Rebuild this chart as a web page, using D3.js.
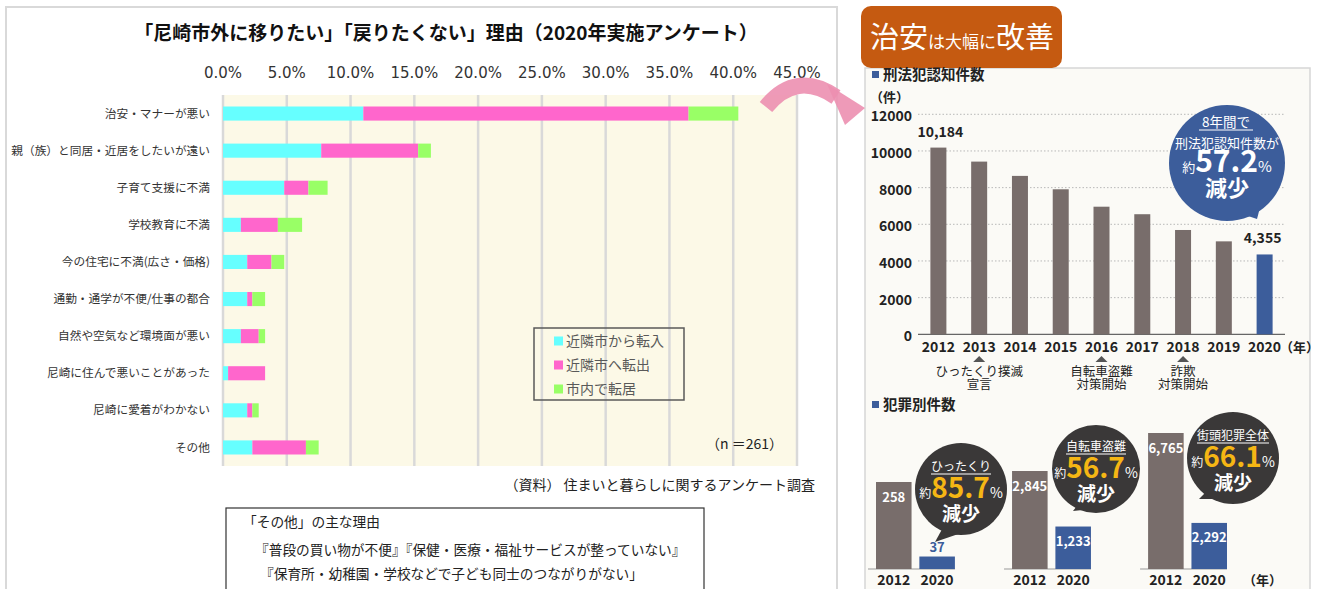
<!DOCTYPE html>
<html>
<head>
<meta charset="utf-8">
<script src="https://cdn.jsdelivr.net/npm/d3@7"></script>
<style>
  body { margin: 0; background: #fff; }
  svg text { font-family: "Noto Sans CJK JP", "Noto Sans", sans-serif; }
</style>
</head>
<body>
<svg id="chart" width="1320" height="589"></svg>
<script>
// left chart data (% of n=261)
const categories = ["治安・マナーが悪い", "親（族）と同居・近居をしたいが遠い", "子育て支援に不満", "学校教育に不満",
  "今の住宅に不満(広さ・価格)", "通勤・通学が不便/仕事の都合", "自然や空気など環境面が悪い",
  "尼崎に住んで悪いことがあった", "尼崎に愛着がわかない", "その他"];
const seriesNames = ["近隣市から転入", "近隣市へ転出", "市内で転居"];
const inflow  = [11.0, 7.7, 4.8, 1.4, 1.9, 1.9, 1.4, 0.4, 1.9, 2.3];
const outflow = [25.5, 7.6, 1.9, 2.9, 1.9, 0.4, 1.4, 2.9, 0.4, 4.2];
const within  = [3.9, 1.0, 1.5, 1.9, 1.0, 1.0, 0.5, 0.0, 0.5, 1.0];
const xTicks = [0, 5, 10, 15, 20, 25, 30, 35, 40, 45];
const otherReasons = ["「その他」の主な理由",
  "『普段の買い物が不便』『保健・医療・福祉サービスが整っていない』",
  "『保育所・幼稚園・学校などで子ども同士のつながりがない」"];

// right chart data
const years = ["2012", "2013", "2014", "2015", "2016", "2017", "2018", "2019", "2020"];
const crimeCounts = [10184, 9420, 8640, 7910, 6960, 6550, 5690, 5070, 4355];
const yTicks = [0, 2000, 4000, 6000, 8000, 10000, 12000];
const notes = [
  { year: "2013", lines: ["ひったくり撲滅", "宣言"] },
  { year: "2016", lines: ["自転車盗難", "対策開始"] },
  { year: "2018", lines: ["詐欺", "対策開始"] }
];
const crimeTypes = ["ひったくり", "自転車盗難", "街頭犯罪全体"];
const counts2012 = [258, 2845, 6765];
const counts2020 = [37, 1233, 2292];
const reductions = ["85.7", "56.7", "66.1"];

const colors = ["#66ffff", "#ff66cc", "#99ff66"];
const gray = "#786d6b", blue = "#3c5d9b";

const svg = d3.select("#chart");

// ---------- left panel ----------
svg.append("rect").attr("x", 6).attr("y", 7).attr("width", 831).attr("height", 600)
  .attr("fill", "#fff").attr("stroke", "#d9d9d9").attr("stroke-width", 2);

svg.append("text").attr("x", 446).attr("y", 40).attr("text-anchor", "middle")
  .attr("font-size", 19).attr("font-weight", "bold").attr("fill", "#111")
  .text("「尼崎市外に移りたい」「戻りたくない」理由（2020年実施アンケート）");

const x = d3.scaleLinear().domain([0, 45]).range([223, 797]);
const y = d3.scaleBand().domain(categories).range([95, 466]).paddingInner(0.62).paddingOuter(0.31);

svg.append("rect").attr("x", x(0)).attr("y", 95).attr("width", x(45) - x(0)).attr("height", 371)
  .attr("fill", "#fcf9e7");

svg.append("g").selectAll("line").data(xTicks).join("line")
  .attr("x1", d => x(d)).attr("x2", d => x(d)).attr("y1", 95).attr("y2", 466)
  .attr("stroke", "#d9d9d9").attr("stroke-width", 2.5);

svg.append("g").selectAll("text").data(xTicks).join("text")
  .attr("x", d => x(d)).attr("y", 78).attr("text-anchor", "middle")
  .attr("font-size", 15).attr("fill", "#333").style("font-family", "DejaVu Sans")
  .text(d => d.toFixed(1) + "%");

const table = categories.map((c, i) => ({ cat: c, a: inflow[i], b: outflow[i], c2: within[i] }));
const stacked = d3.stack().keys(["a", "b", "c2"])(table);

svg.append("g").selectAll("g").data(stacked).join("g")
  .attr("fill", (d, i) => colors[i])
  .selectAll("rect").data(d => d).join("rect")
  .attr("x", d => x(d[0])).attr("width", d => x(d[1]) - x(d[0]))
  .attr("y", d => y(d.data.cat)).attr("height", y.bandwidth());

svg.append("g").selectAll("text").data(categories).join("text")
  .attr("x", 210).attr("y", d => y(d) + y.bandwidth() / 2).attr("dy", "0.35em")
  .attr("text-anchor", "end").attr("font-size", 11.7).attr("fill", "#333")
  .text(d => d);

// legend
const legend = svg.append("g");
legend.append("rect").attr("x", 534).attr("y", 328).attr("width", 150).attr("height", 72)
  .attr("fill", "none").attr("stroke", "#595959").attr("stroke-width", 1.5);
seriesNames.forEach((s, i) => {
  const cy = 341 + i * 24;
  legend.append("rect").attr("x", 554).attr("y", cy - 4.5).attr("width", 9).attr("height", 9).attr("fill", colors[i]);
  legend.append("text").attr("x", 566).attr("y", cy).attr("dy", "0.35em")
    .attr("font-size", 14).attr("fill", "#595959").text(s);
});

svg.append("text").attr("x", 783).attr("y", 444).attr("dy", "0.35em").attr("text-anchor", "end")
  .attr("font-size", 14).attr("fill", "#222").text("（n ＝261）");
svg.append("text").attr("x", 815).attr("y", 485).attr("dy", "0.35em").attr("text-anchor", "end")
  .attr("font-size", 14).attr("fill", "#222").text("（資料） 住まいと暮らしに関するアンケート調査");

svg.append("rect").attr("x", 226).attr("y", 508).attr("width", 478).attr("height", 100)
  .attr("fill", "#fff").attr("stroke", "#333").attr("stroke-width", 1.2);
[[243, 522], [255, 550], [260, 574]].forEach((p, i) => {
  svg.append("text").attr("x", p[0]).attr("y", p[1]).attr("dy", "0.35em")
    .attr("font-size", 13.7).attr("fill", "#222").text(otherReasons[i]);
});

// ---------- right panel ----------
svg.append("rect").attr("x", 865).attr("y", 68).attr("width", 445).attr("height", 540)
  .attr("fill", "#fbfaf6").attr("stroke", "#d6d6d6").attr("stroke-width", 1.5);

svg.append("rect").attr("x", 861).attr("y", 6).attr("width", 201).attr("height", 62).attr("rx", 10)
  .attr("fill", "#c55a11");
const banner = svg.append("text").attr("x", 962).attr("y", 48).attr("text-anchor", "middle").attr("fill", "#fff");
banner.append("tspan").attr("font-size", 29).text("治安");
banner.append("tspan").attr("font-size", 17).text("は大幅に");
banner.append("tspan").attr("font-size", 29).text("改善");

// pink arrow
svg.append("path").attr("d", "M766,107 Q796,70 836,97").attr("fill", "none")
  .attr("stroke", "#ec8fb0").attr("stroke-width", 16).attr("opacity", 0.9);
svg.append("path").attr("d", "M827,84 L865,108 L845,125 Z").attr("fill", "#ec8fb0").attr("opacity", 0.9);

function heading(yy, label) {
  svg.append("rect").attr("x", 872).attr("y", yy - 4).attr("width", 7).attr("height", 7).attr("fill", blue);
  svg.append("text").attr("x", 883).attr("y", yy).attr("dy", "0.35em").attr("font-size", 14.5)
    .attr("font-weight", "bold").attr("fill", "#222").text(label);
}
heading(75, "刑法犯認知件数");
svg.append("text").attr("x", 870).attr("y", 97).attr("dy", "0.35em").attr("font-size", 13)
  .attr("font-weight", "bold").attr("fill", "#222").text("（件）");

const yC = d3.scaleLinear().domain([0, 12000]).range([334.3, 114.3]);
const xC = d3.scalePoint().domain(years).range([918, 1285]).padding(0.5);

svg.append("g").selectAll("line").data(yTicks.filter(d => d > 0)).join("line")
  .attr("x1", 918).attr("x2", 1285).attr("y1", d => yC(d)).attr("y2", d => yC(d))
  .attr("stroke", "#b8b8b8").attr("stroke-dasharray", "1.5,2");
svg.append("line").attr("x1", 918).attr("x2", 1285).attr("y1", yC(0)).attr("y2", yC(0))
  .attr("stroke", "#666").attr("stroke-width", 1.2);
svg.append("g").selectAll("text").data(yTicks).join("text")
  .attr("x", 912).attr("y", d => yC(d) + 2).attr("dy", "0.35em").attr("text-anchor", "end")
  .attr("font-size", 14).attr("font-weight", "bold").attr("fill", "#222").text(d => d);

svg.append("g").selectAll("rect").data(crimeCounts).join("rect")
  .attr("x", (d, i) => xC(years[i]) - 8).attr("width", 16)
  .attr("y", d => yC(d)).attr("height", d => yC(0) - yC(d))
  .attr("fill", (d, i) => i === crimeCounts.length - 1 ? blue : gray);

[0, crimeCounts.length - 1].forEach(i => {
  svg.append("text").attr("x", xC(years[i]) + (i === 0 ? 2 : -2)).attr("y", yC(crimeCounts[i]) - 11)
    .attr("text-anchor", "middle").attr("font-size", 14).attr("font-weight", "bold").attr("fill", "#222")
    .text(d3.format(",")(crimeCounts[i]));
});

svg.append("g").selectAll("text").data(years).join("text")
  .attr("x", d => xC(d)).attr("y", 347).attr("dy", "0.35em").attr("text-anchor", "middle")
  .attr("font-size", 14).attr("font-weight", "bold").attr("fill", "#222").text(d => d);
svg.append("text").attr("x", 1280).attr("y", 347).attr("dy", "0.35em").attr("font-size", 13)
  .attr("font-weight", "bold").attr("fill", "#222").text("（年）");

notes.forEach(n => {
  const cx = xC(n.year);
  svg.append("path").attr("d", `M${cx - 6},362 L${cx},356 L${cx + 6},362 Z`).attr("fill", "#555");
  n.lines.forEach((l, j) => {
    svg.append("text").attr("x", cx).attr("y", 372 + j * 13).attr("dy", "0.35em").attr("text-anchor", "middle")
      .attr("font-size", 12.5).attr("fill", "#222").text(l);
  });
});

// blue speech bubble
svg.append("path").attr("d", "M1236,212 L1257,219 L1263,196 Z").attr("fill", blue);
svg.append("circle").attr("cx", 1227).attr("cy", 163).attr("r", 58).attr("fill", blue);
svg.append("text").attr("x", 1226).attr("y", 122).attr("dy", "0.35em").attr("text-anchor", "middle")
  .attr("font-size", 13.5).attr("fill", "#fff").text("8年間で");
svg.append("line").attr("x1", 1199).attr("x2", 1253).attr("y1", 130).attr("y2", 130).attr("stroke", "#fff");
svg.append("text").attr("x", 1227).attr("y", 143).attr("dy", "0.35em").attr("text-anchor", "middle")
  .attr("font-size", 13).attr("fill", "#fff").text("刑法犯認知件数が");
const b3 = svg.append("text").attr("x", 1227).attr("y", 166).attr("dy", "0.35em").attr("text-anchor", "middle").attr("fill", "#fff");
b3.append("tspan").attr("font-size", 13).text("約");
b3.append("tspan").attr("font-size", 30).attr("font-weight", "bold").text("57.2");
b3.append("tspan").attr("font-size", 15).text("%");
svg.append("text").attr("x", 1227).attr("y", 188).attr("dy", "0.35em").attr("text-anchor", "middle")
  .attr("font-size", 22).attr("font-weight", "bold").attr("fill", "#fff").text("減少");

// crime type bars
heading(405, "犯罪別件数");
const gx = d3.scaleBand().domain(crimeTypes).range([876, 1227]).paddingInner(0.42).paddingOuter(0);
const bx = d3.scaleBand().domain(["2012", "2020"]).range([0, gx.bandwidth()]).paddingInner(0.18);
const groupTops = [482, 471, 433];
const base = 569;

crimeTypes.forEach((t, i) => {
  const ys = d3.scaleLinear().domain([0, counts2012[i]]).range([base, groupTops[i]]);
  const g = svg.append("g").attr("transform", `translate(${gx(t)},0)`);
  g.append("line").attr("x1", -8).attr("x2", gx.bandwidth()).attr("y1", base).attr("y2", base)
    .attr("stroke", "#999").attr("stroke-width", 1);
  const vals = [counts2012[i], counts2020[i]];
  g.selectAll("rect").data(vals).join("rect")
    .attr("x", (d, j) => bx(j === 0 ? "2012" : "2020")).attr("width", bx.bandwidth())
    .attr("y", d => ys(d)).attr("height", d => base - ys(d))
    .attr("fill", (d, j) => j === 0 ? gray : blue);
  g.selectAll("text.v").data(vals).join("text").attr("class", "v")
    .attr("x", (d, j) => bx(j === 0 ? "2012" : "2020") + bx.bandwidth() / 2)
    .attr("y", d => base - ys(d) > 25 ? ys(d) + 15 : ys(d) - 9).attr("dy", "0.35em")
    .attr("text-anchor", "middle").attr("font-size", 13).attr("font-weight", "bold")
    .attr("fill", d => base - ys(d) > 25 ? "#fff" : blue)
    .text(d => d3.format(",")(d));
  g.selectAll("text.yr").data(["2012", "2020"]).join("text").attr("class", "yr")
    .attr("x", d => bx(d) + bx.bandwidth() / 2).attr("y", 580).attr("dy", "0.35em")
    .attr("text-anchor", "middle").attr("font-size", 14).attr("font-weight", "bold").attr("fill", "#222")
    .text(d => d);
});
svg.append("text").attr("x", 1243).attr("y", 580).attr("dy", "0.35em").attr("font-size", 13)
  .attr("font-weight", "bold").attr("fill", "#222").text("（年）");

// dark speech bubbles
const bubbles = [
  { cx: 961, cy: 489, r: 46, tail: "M946,522 L935,542 L970,530 Z" },
  { cx: 1096, cy: 469, r: 44, tail: "M1080,502 L1073,511 L1102,508 Z" },
  { cx: 1233, cy: 458, r: 46, tail: "M1208,490 L1199,499 L1224,499 Z" }
];
bubbles.forEach((b, i) => {
  svg.append("path").attr("d", b.tail).attr("fill", "#3a3838");
  svg.append("circle").attr("cx", b.cx).attr("cy", b.cy).attr("r", b.r).attr("fill", "#3a3838");
  const t = svg.append("text").attr("x", b.cx).attr("y", b.cy - 22).attr("dy", "0.35em")
    .attr("text-anchor", "middle").attr("font-size", 12).attr("fill", "#fff").text(crimeTypes[i]);
  const w = t.node().getComputedTextLength();
  svg.append("line").attr("x1", b.cx - w / 2).attr("x2", b.cx + w / 2).attr("y1", b.cy - 15).attr("y2", b.cy - 15)
    .attr("stroke", "#fff").attr("stroke-width", 1.2);
  const p = svg.append("text").attr("x", b.cx).attr("y", b.cy + 3).attr("dy", "0.35em").attr("text-anchor", "middle").attr("fill", "#fff");
  p.append("tspan").attr("font-size", 12).text("約");
  p.append("tspan").attr("font-size", 28).attr("font-weight", "bold").attr("fill", "#f5b614").text(reductions[i]);
  p.append("tspan").attr("font-size", 14).text("%");
  svg.append("text").attr("x", b.cx).attr("y", b.cy + 25).attr("dy", "0.35em").attr("text-anchor", "middle")
    .attr("font-size", 19).attr("font-weight", "bold").attr("fill", "#fff").text("減少");
});
</script>
</body>
</html>
